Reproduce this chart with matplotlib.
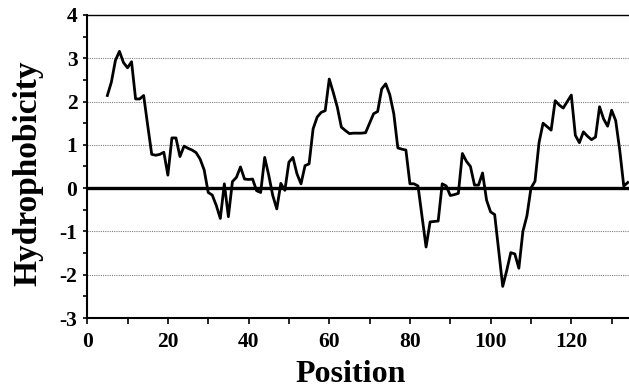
import matplotlib
matplotlib.use('Agg')
import matplotlib.pyplot as plt
from matplotlib.ticker import MultipleLocator, FixedLocator

# Hydrophobicity profile (residue position -> value)
posiciones = list(range(5, 135))
hidrofobicidad = [
    2.14, 2.45, 2.95, 3.16, 2.90, 2.78, 2.92, 2.06, 2.06, 2.14,   # 5-14
    1.45, 0.78, 0.76, 0.78, 0.83, 0.30, 1.16, 1.16, 0.73, 0.97,   # 15-24
    0.92, 0.88, 0.82, 0.67, 0.42, -0.10, -0.16, -0.40, -0.70, 0.10,  # 25-34
    -0.66, 0.15, 0.25, 0.49, 0.21, 0.20, 0.21, -0.06, -0.10, 0.71,  # 35-44
    0.30, -0.17, -0.48, 0.11, -0.05, 0.60, 0.71, 0.33, 0.10, 0.52,  # 45-54
    0.56, 1.37, 1.64, 1.75, 1.79, 2.52, 2.21, 1.87, 1.41, 1.33,   # 55-64
    1.26, 1.27, 1.27, 1.27, 1.28, 1.50, 1.72, 1.77, 2.29, 2.41,   # 65-74
    2.16, 1.72, 0.93, 0.90, 0.88, 0.10, 0.10, 0.05, -0.65, -1.36,  # 75-84
    -0.78, -0.77, -0.76, 0.10, 0.05, -0.17, -0.15, -0.12, 0.80, 0.62,  # 85-94
    0.50, 0.07, 0.07, 0.35, -0.28, -0.55, -0.61, -1.45, -2.27, -1.90,  # 95-104
    -1.49, -1.52, -1.85, -1.00, -0.64, 0.00, 0.16, 1.05, 1.50, 1.42,  # 105-114
    1.34, 2.02, 1.92, 1.85, 2.00, 2.15, 1.22, 1.05, 1.30, 1.20,   # 115-124
    1.12, 1.18, 1.88, 1.60, 1.43, 1.80, 1.56, 0.88, 0.05, 0.13,   # 125-134
]

ticks_x = [0, 20, 40, 60, 80, 100, 120]
etiquetas_x = ['0', '20', '40', '60', '80', '100', '120']
ticks_y = [-3, -2, -1, 0, 1, 2, 3, 4]
etiquetas_y = ['-3', '-2', '-1', '0', '1', '2', '3', '4']

plt.rcParams['font.family'] = 'Liberation Serif'
plt.rcParams['font.weight'] = 'bold'

fig = plt.figure(figsize=(6.29, 3.89), dpi=100)
ax = fig.add_axes([0.1386, 0.1825, 0.8614, 0.779])

# gridlines and zero line
for yv in ticks_y:
    if yv in (-3, 0, 4):
        continue
    ax.axhline(yv, color='0.5', lw=0.8, ls=(0, (1, 1)), zorder=1)
ax.axhline(0, color='black', lw=2.4, zorder=2)

ax.plot(posiciones, hidrofobicidad, color='black', lw=2.0, zorder=3)

ax.set_xlim(0, 134.3)
ax.set_ylim(-3, 4)

ax.xaxis.set_major_locator(FixedLocator(ticks_x))
ax.set_xticklabels(etiquetas_x)
ax.xaxis.set_minor_locator(MultipleLocator(10))
ax.yaxis.set_major_locator(FixedLocator(ticks_y))
ax.set_yticklabels(etiquetas_y)
ax.yaxis.set_minor_locator(MultipleLocator(0.5))

ax.tick_params(axis='x', which='both', direction='out', length=4, width=1.2,
               labelsize=15.5, pad=6)
ax.tick_params(axis='y', which='both', direction='out', length=3, width=1.2,
               labelsize=15.5, pad=4)

for lado in ('left', 'bottom'):
    ax.spines[lado].set_linewidth(1.5)
ax.spines['top'].set_linewidth(1.0)
ax.spines['right'].set_visible(False)

fig.text(0.0445, 0.555, 'Hydrophobicity', rotation=90, ha='center',
         va='center', fontsize=24, fontweight='bold')
fig.text(0.558, 0.0, 'Position', ha='center', va='bottom',
         fontsize=23, fontweight='bold')

fig.savefig('out.png', dpi=100)
